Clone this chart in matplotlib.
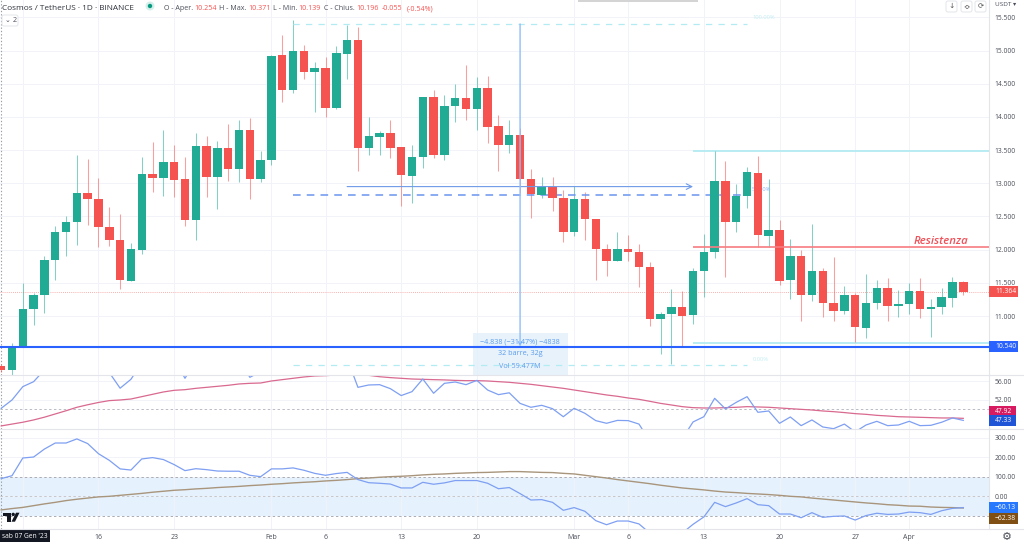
import matplotlib
matplotlib.use('Agg')
import matplotlib.pyplot as plt
from matplotlib.patches import Rectangle, FancyBboxPatch, Circle, Polygon

plt.rcParams['font.family'] = ['Open Sans', 'DejaVu Sans']

W, H = 1024, 542
AXIS_X = 989

# daily candles, 7 Jan to 6 Apr 2023
opens = [10.25, 10.19, 10.54, 11.10, 11.32, 11.84, 12.27, 12.41, 12.86, 12.77, 12.34, 12.15, 11.53, 11.99, 13.14, 13.08,
         13.32, 13.07, 12.44, 13.56, 13.10, 13.53, 13.22, 13.80, 13.06, 13.35, 14.93, 14.41, 14.99, 14.67, 14.74, 14.13,
         14.95, 15.16, 13.53, 13.69, 13.75, 13.55, 13.11, 13.40, 14.30, 13.42, 14.16, 14.29, 14.12, 14.43, 13.87, 13.58,
         13.73, 13.06, 12.83, 12.95, 12.78, 12.27, 12.77, 12.46, 12.01, 11.83, 12.01, 11.97, 11.74, 10.95, 11.03, 11.14,
         11.02, 11.68, 11.97, 13.04, 12.41, 12.81, 13.16, 12.21, 12.30, 11.54, 11.91, 11.31, 11.68, 11.19, 11.08, 11.32,
         10.82, 11.20, 11.42, 11.15, 11.18, 11.38, 11.11, 11.13, 11.27, 11.51]
highs = [10.28, 10.60, 11.50, 11.35, 11.90, 12.36, 12.51, 13.43, 13.37, 13.08, 12.64, 12.54, 12.10, 13.40, 13.62, 13.80,
         13.58, 13.39, 13.76, 13.71, 13.64, 13.89, 13.95, 13.99, 13.48, 14.93, 15.23, 15.46, 15.08, 14.82, 14.90, 15.07,
         15.38, 15.35, 14.00, 13.79, 13.95, 13.55, 13.58, 14.30, 14.41, 14.33, 14.50, 14.78, 14.60, 14.62, 14.03, 13.95,
         13.83, 13.21, 13.10, 13.10, 12.90, 12.96, 12.87, 12.46, 12.08, 12.26, 12.22, 12.08, 11.82, 11.06, 11.40, 11.37,
         11.73, 12.23, 13.49, 13.34, 12.99, 13.24, 13.41, 13.07, 12.45, 12.16, 12.00, 12.38, 11.72, 11.89, 11.45, 11.35,
         11.64, 11.55, 11.57, 11.39, 11.50, 11.58, 11.26, 11.42, 11.59, 11.53]
lows = [10.16, 10.11, 10.54, 10.86, 11.05, 11.54, 11.91, 12.07, 12.37, 12.04, 12.06, 11.41, 11.53, 11.93, 12.87, 12.81,
        12.79, 12.35, 12.14, 12.80, 12.61, 13.03, 13.02, 12.76, 13.02, 13.28, 14.23, 14.36, 14.57, 14.08, 14.00, 14.12,
        14.57, 13.18, 13.42, 13.42, 13.38, 12.66, 12.71, 13.23, 13.38, 13.35, 13.93, 13.95, 13.81, 13.61, 13.18, 13.45,
        12.85, 12.48, 12.78, 12.58, 12.11, 12.21, 12.15, 11.55, 11.61, 11.83, 11.83, 11.43, 10.85, 10.43, 10.28, 10.55,
        10.88, 11.28, 11.87, 11.59, 12.27, 12.62, 12.04, 12.04, 11.47, 11.25, 10.93, 11.23, 10.98, 10.92, 11.03, 10.61,
        10.67, 11.10, 10.93, 10.98, 11.03, 10.97, 10.69, 11.03, 11.13, 11.32]
closes = [10.19, 10.54, 11.10, 11.32, 11.84, 12.27, 12.41, 12.86, 12.77, 12.34, 12.15, 11.54, 12.01, 13.14, 13.08, 13.32,
          13.05, 12.44, 13.56, 13.10, 13.53, 13.22, 13.80, 13.06, 13.35, 14.92, 14.41, 14.99, 14.67, 14.73, 14.14, 14.96,
          15.16, 13.53, 13.71, 13.75, 13.53, 13.12, 13.40, 14.30, 13.42, 14.17, 14.29, 14.12, 14.43, 13.85, 13.58, 13.73,
          13.06, 12.84, 12.96, 12.78, 12.27, 12.77, 12.46, 12.01, 11.83, 12.01, 11.97, 11.74, 10.95, 11.03, 11.14, 11.00,
          11.68, 11.97, 13.04, 12.41, 12.81, 13.17, 12.22, 12.30, 11.53, 11.91, 11.32, 11.68, 11.19, 11.08, 11.32, 10.83,
          11.20, 11.42, 11.15, 11.18, 11.38, 11.11, 11.14, 11.28, 11.51, 11.36]

rsi = [50.13, 51.94, 54.84, 55.92, 58.5, 61.0, 63.0, 64.0, 62.0, 60.0, 57.9, 54.5, 56.43, 60.0, 62.0, 62.5, 61.0, 56.65,
       60.5, 60.0, 60.0, 60.5, 61.0, 56.87, 58.1, 66.0, 65.0, 66.0, 65.0, 65.0, 63.0, 64.0, 61.0, 54.69, 55.2, 55.27, 54.4,
       52.9, 53.75, 56.5, 53.4, 55.56, 55.85, 55.27, 56.2, 54.1, 53.1, 53.5, 51.2, 50.35, 50.78, 50.05, 48.3, 50.13, 49.04,
       47.45, 46.87, 47.5, 47.45, 46.7, 43.0, 41.0, 42.0, 43.5, 47.16, 48.3, 52.3, 50.0, 51.43, 52.66, 49.26, 49.55, 46.87,
       48.24, 46.36, 47.6, 46.07, 45.7, 46.7, 45.0, 46.5, 47.3, 46.36, 46.5, 47.3, 46.36, 46.43, 47.1, 48.03, 47.5]
rsi_ma = [46.3, 46.7, 47.1, 47.6, 48.2, 48.9, 49.6, 50.35, 50.9, 51.4, 51.8, 51.94, 52.15, 52.66, 53.17, 53.68, 54.04,
          54.18, 54.47, 54.69, 54.91, 55.13, 55.42, 55.56, 55.63, 56.07, 56.36, 56.65, 56.94, 57.16, 57.23, 57.37, 57.5,
          57.5, 57.3, 57.0, 56.8, 56.65, 56.5, 56.43, 56.36, 56.3, 56.2, 56.14, 56.14, 56.07, 55.92, 55.78, 55.56, 55.34,
          55.05, 54.76, 54.47, 54.11, 53.75, 53.39, 53.03, 52.74, 52.37, 52.08, 51.65, 51.2, 50.85, 50.49, 50.27, 50.2,
          50.2, 50.27, 50.35, 50.49, 50.42, 50.35, 50.2, 50.05, 49.9, 49.76, 49.55, 49.4, 49.2, 48.97, 48.82, 48.6, 48.46,
          48.3, 48.24, 48.17, 48.1, 48.03, 48.03, 47.95]
cci = [91, 106, 197, 202, 243, 274, 274, 295, 271, 219, 185, 141, 135, 192, 199, 189, 163, 132, 142, 137, 130, 129, 129,
       108, 101, 141, 141, 146, 134, 118, 108, 117, 123, 86, 70, 67, 63, 43, 43, 72, 62, 69, 81, 81, 81, 67, 39, 45, 14,
       -19, -17, -31, -72, -58, -77, -125, -146, -127, -127, -142, -189, -240, -257, -189, -144, -106, -31, -53, -34, -12,
       -43, -48, -91, -91, -110, -84, -108, -103, -101, -122, -99, -87, -93, -91, -81, -84, -93, -74, -62, -58]
cci_ma = [-70, -63, -57, -48, -39, -31, -22, -15, -9, -3, 0, 5, 10, 15, 21, 26, 31, 34, 38, 41, 45, 48, 51, 55, 58, 62, 65,
          69, 72, 75, 79, 82, 86, 91, 94, 98, 101, 103, 106, 110, 113, 115, 118, 120, 122, 123, 125, 127, 127, 125, 123,
          122, 118, 115, 108, 101, 94, 86, 79, 72, 65, 57, 50, 43, 38, 33, 27, 22, 19, 15, 12, 9, 5, 0, -3, -9, -14, -19,
          -24, -29, -34, -38, -43, -46, -50, -51, -55, -57, -58, -60]

x_ticks = [2, 9, 16, 25, 30, 37, 44, 53, 58, 65, 72, 79, 84]
x_labels = ['', '16', '23', 'Feb', '6', '13', '20', 'Mar', '6', '13', '20', '27', 'Apr']
price_ticks = [11.0, 11.5, 12.0, 12.5, 13.0, 13.5, 14.0, 14.5, 15.0, 15.5]
rsi_ticks = [52, 56]
cci_ticks = [0, 100, 200, 300]

last_price = 11.364
support = 10.54
resistance = 12.04
fib_high = 15.40
fib_low = 10.26
fib_mid = 12.82
range_high = 13.49
range_low = 10.60
arrow_price = 12.95
measure_day = 48
arrow_start, arrow_end = 32, 64
fib_start, fib_end = 27, 69

GREEN = '#22ab94'
RED = '#f55350'
BLUE = '#2962ff'
LINE_BLUE = '#7e9ff2'
PINK = '#d9698f'
TAN = '#a8957c'
GRID = '#f1f3f8'
TEXT = '#4a4e59'
FAINT = '#90bff9'
CYAN = '#b2ebf2'
INFO = '#5c9dee'

days = list(range(len(closes)))
xlim = (-1.2 / 10.81, (AXIS_X - 1.2) / 10.81)


def make_axes(top, bottom):
	ax = fig.add_axes([0, 1 - bottom / H, AXIS_X / W, (bottom - top) / H])
	ax.set_xlim(xlim)
	ax.set_facecolor('none')
	ax.yaxis.tick_right()
	ax.set_xticks(x_ticks)
	ax.tick_params(length=0, labelsize=4.9, labelcolor=TEXT, pad=4.2)
	ax.grid(True, color=GRID, lw=0.7)
	ax.set_axisbelow(True)
	for side in ['top', 'left', 'bottom']:
		ax.spines[side].set_visible(False)
	ax.spines['right'].set_color('#e3e5ea')
	ax.spines['right'].set_linewidth(0.8)
	ax.axvline(0, color='#9a9da6', lw=0.8, ls=(0, (1.2, 1.8)))
	return ax


def price_tag(ax, value, text, color, width=29):
	# tag on the price scale, centred on a value of that pane
	yc = ax.transData.transform((0, value))[1]
	fig.add_artist(Rectangle((AXIS_X / W, (yc - 5.5) / H), width / W, 11 / H, fc=color, ec='none', transform=fig.transFigure, zorder=10))
	fig.text(995 / W, yc / H, text, fontsize=4.9, color='white', va='center', zorder=11)


fig = plt.figure(figsize=(W / 100, H / 100), dpi=100, facecolor='white')

# price pane
ax = make_axes(0, 375)
ax.set_ylim(15.761 - 0.015065 * 375, 15.761)
ax.set_yticks(price_ticks)
ax.set_yticklabels([f'{p:.3f}' for p in price_ticks])
ax.set_xticklabels([])

for i in days:
	col = GREEN if closes[i] >= opens[i] else RED
	ax.vlines(i, lows[i], highs[i], color=col, lw=0.75, alpha=0.55, zorder=2)
	ax.bar(i, abs(closes[i] - opens[i]), bottom=min(opens[i], closes[i]), width=0.78, color=col, lw=0, zorder=3)

ax.axhline(last_price, color=RED, lw=0.6, ls=(0, (1, 1.5)), alpha=0.6, zorder=1)
ax.axhline(support, color=BLUE, lw=1.5, zorder=8)
ax.hlines(resistance, 64, xlim[1], color='#f77c80', lw=1.2, zorder=4)
ax.hlines([range_high, range_low], 64, xlim[1], color=CYAN, lw=1.3, zorder=1)
ax.hlines([fib_high, fib_low], fib_start, fib_end, color=CYAN, lw=0.9, ls=(0, (5, 5)), zorder=7)
ax.hlines(fib_mid, fib_start, fib_end, color='#6b94f0', lw=1.1, ls=(0, (5, 4)), zorder=2)
ax.annotate('', xy=(arrow_end, arrow_price), xytext=(arrow_start, arrow_price), zorder=4,
	arrowprops=dict(arrowstyle='->', color='#6f9be8', lw=0.8, shrinkA=0, shrinkB=0))
ax.annotate('', xy=(measure_day, support), xytext=(measure_day, fib_high), zorder=9,
	arrowprops=dict(arrowstyle='->', color=FAINT, lw=1.0, shrinkA=0, shrinkB=0, mutation_scale=6))
ax.text(fib_end + 0.5, fib_high + 0.09, '100.00%', fontsize=4.2, color='#c5eef3', va='center')
ax.text(fib_end + 0.5, fib_low + 0.09, '0.00%', fontsize=4.2, color='#c5eef3', va='center')
ax.text(fib_end + 0.4, fib_mid + 0.09, '50.00%', fontsize=4.2, color='#8fb4f5', va='center', zorder=2)
ax.text(89.5, resistance + 0.09, 'Resistenza', fontsize=8.2, color='#f0525a', style='italic', weight='semibold',
	ha='right', va='center', zorder=6)

box_bottom = ax.get_ylim()[0]
ax.add_patch(Rectangle((43.6, box_bottom), 8.8, 10.74 - box_bottom, fc='#e3f0fb', ec='none', alpha=0.85, zorder=6))
ax.text(48, 10.61, '−4.838 (−31.47%) −4838', fontsize=5.2, color=INFO, ha='center', va='center', zorder=9)
ax.text(48, 10.43, '32 barre, 32g', fontsize=5.2, color=INFO, ha='center', va='center', zorder=9)
ax.text(48, 10.24, 'Vol 59.477M', fontsize=5.2, color=INFO, ha='center', va='center', zorder=9)

price_tag(ax, last_price, f'{last_price:.3f}', RED)
price_tag(ax, support, f'{support:.3f}', BLUE)

# rsi pane
ax_rsi = make_axes(375, 429)
ax_rsi.set_ylim(45.63, 57.37)
ax_rsi.set_yticks(rsi_ticks)
ax_rsi.set_yticklabels([f'{v:.2f}' for v in rsi_ticks])
ax_rsi.set_xticklabels([])
ax_rsi.axhline(50, color='#b9bcc4', lw=0.7, ls=(0, (2.5, 2.5)))
ax_rsi.plot(days, rsi_ma, color=PINK, lw=0.9, zorder=3)
ax_rsi.plot(days, rsi, color=LINE_BLUE, lw=0.9, zorder=4)
price_tag(ax_rsi, 49.48, '47.92', '#d81b60', width=27)
price_tag(ax_rsi, 47.37, '47.33', '#1f55d6', width=27)

# cci pane
ax_cci = make_axes(429, 529)
ax_cci.set_ylim(-168, 346)
ax_cci.set_yticks(cci_ticks)
ax_cci.set_yticklabels([f'{v:.2f}' for v in cci_ticks])
ax_cci.set_xticklabels(x_labels)
ax_cci.tick_params(axis='x', pad=3.4, labelsize=5.0)
ax_cci.axhspan(-100, 100, color='#e5f2fd', lw=0, zorder=0)
ax_cci.axhline(100, color='#a9acb5', lw=0.7, ls=(0, (2.5, 2.5)))
ax_cci.axhline(0, color='#c4c7ce', lw=0.7, ls=(0, (2.5, 2.5)))
ax_cci.axhline(-100, color='#a9acb5', lw=0.7, ls=(0, (2.5, 2.5)))
ax_cci.plot(days, cci_ma, color=TAN, lw=1.0, zorder=3)
ax_cci.plot(days, cci, color=LINE_BLUE, lw=0.9, zorder=4)
price_tag(ax_cci, -60, '−60.13', '#2979ff')
price_tag(ax_cci, -113, '−62.38', '#7f4f14')

for y in [375, 429, 529]:
	fig.add_artist(plt.Line2D([0, 1], [1 - y / H] * 2, color='#e3e5ea', lw=0.8))

# legend line at the top
fig.text(2 / W, 1 - 10 / H, 'Cosmos / TetherUS · 1D · BINANCE', fontsize=5.95, color='#2f323c', va='baseline')
legend_bits = [(164, 'O - Aper.', TEXT), (194, '10.254', RED), (219, 'H - Max.', TEXT), (248, '10.371', RED),
	(273, 'L - Min.', TEXT), (298, '10.139', RED), (324, 'C - Chius.', TEXT), (356, '10.196', RED),
	(382, '-0.055', RED), (407, '(-0.54%)', RED)]
for px, txt, col in legend_bits:
	fig.text(px / W, 1 - 10 / H, txt, fontsize=5.1, color=col, va='baseline')
fig.text(995 / W, 1 - 4.5 / H, 'USDT ▾', fontsize=4.6, color=TEXT, va='center')


def fig_box(x0, y0, x1, y1, ec='#e3e5ea', fc='white', rad=2.0):
	fig.add_artist(FancyBboxPatch((x0, H - y1), x1 - x0, y1 - y0, boxstyle=f'round,pad=0,rounding_size={rad}',
		fc=fc, ec=ec, lw=0.7, transform=None))


fig.add_artist(Circle((150, H - 6), 4.5, fc='#d5f0ea', ec='none', transform=None))
fig.add_artist(Circle((150, H - 6), 2.2, fc='#089981', ec='none', transform=None))
fig_box(2, 15, 18, 26)
fig.text(5 / W, 1 - 20.5 / H, '⌄', fontsize=5, color=TEXT, va='center')
fig.text(12.5 / W, 1 - 20.5 / H, '2', fontsize=5.2, color=TEXT, va='center')
for x0, sym in [(946, '↓'), (961, '≎'), (975, '⟳')]:
	fig_box(x0, 1, x0 + 11, 12)
	fig.text((x0 + 5.5) / W, 1 - 6.5 / H, sym, fontsize=5.4, color='#555', ha='center', va='center')

# top window shadow
fig.add_artist(Rectangle((578 / W, 1 - 2 / H), 120 / W, 2 / H, fc='#d4d4d4', ec='none', transform=fig.transFigure))

# crosshair date and logo
fig.add_artist(Rectangle((0, 0), 50 / W, 13 / H, fc='#131722', ec='none', transform=fig.transFigure))
fig.text(2.5 / W, 6 / H, "sab 07 Gen '23", fontsize=4.8, color='white', va='center')
logo_t = [(2.7, 512.7), (11, 512.7), (11, 521.7), (6.5, 521.7), (6.5, 515.7), (2.7, 515.7)]
logo_v = [(16, 512.7), (19.5, 512.7), (15, 521.7), (11.5, 521.7)]
for pts in [logo_t, logo_v]:
	fig.add_artist(Polygon([(x, H - y) for x, y in pts], fc='#131722', ec='none', transform=None))
fig.add_artist(Circle((13.2, H - 514.4), 1.7, fc='#131722', ec='none', transform=None))
fig.text(1007 / W, 5 / H, '⚙', fontsize=8, color=TEXT, ha='center', va='center', family=['DejaVu Sans'])

fig.savefig('out.png', dpi=100)
